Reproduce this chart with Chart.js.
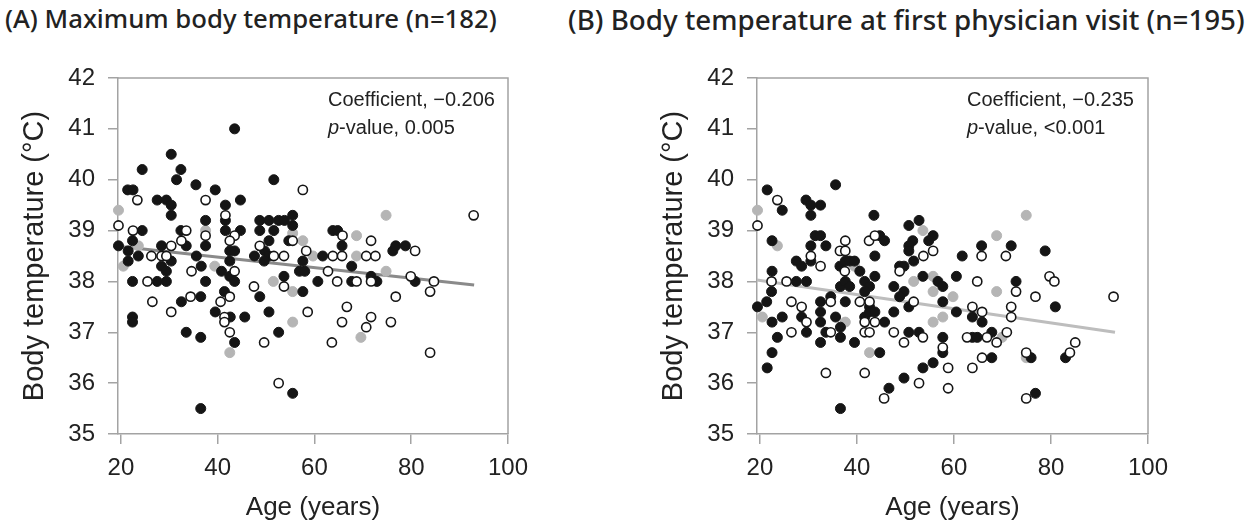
<!DOCTYPE html>
<html>
<head>
<meta charset="utf-8">
<script src="https://cdn.jsdelivr.net/npm/chart.js@4/dist/chart.umd.min.js"></script>
<style>
  body { margin: 0; background: #fff; width: 1253px; height: 526px; position: relative; overflow: hidden; }
  .ttl { position: absolute; top: 0; font-family: "Noto Sans", sans-serif; font-weight: 500; font-size: 21px; color: #222; white-space: nowrap; }
  canvas { position: absolute; top: 0; }
</style>
</head>
<body>
<div class="ttl" id="tA" style="left:5px">(A) Maximum body temperature (n=182)</div>
<div class="ttl" id="tB" style="left:568px">(B) Body temperature at first physician visit (n=195)</div>
<canvas id="cA" width="630" height="526" style="left:0"></canvas>
<canvas id="cB" width="623" height="526" style="left:630px"></canvas>
<script>
// ticks
const xTicks = [20, 40, 60, 80, 100];
const yTicks = [35, 36, 37, 38, 39, 40, 41, 42];

// (A) max body temperature - filled dots
const aFillAge = [43.5,30.4,24.4,32.4,31.5,51.6,35.5,39.5,21.4,22.5,27.5,29.4,30.4,44.7,41.6,30.4,24.4,37.5,41.6,48.7,50.6,52.6,53.8,55.5,55.5,32.4,41.6,44.7,48.7,51.6,22.4,19.5,28.4,33.5,37.5,21.5,23.6,30.4,21.5,35.6,42.5,43.5,42.5,47.6,50.6,49.7,50.6,49.6,54.7,57.6,36.6,40.8,28.4,29.4,53.7,56.9,58.0,
  22.4,27.5,29.4,37.5,42.5,43.5,41.4,36.5,32.5,22.4,22.4,39.5,42.6,45.6,43.5,33.5,36.5,36.5,48.7,50.6,52.6,55.5,57.6,
  63.8,64.8,65.7,76.2,76.8,78.8,61.7,67.7,71.7,80.8,60.7,67.7,72.9];
const aFillTemp = [41.0,40.5,40.2,40.2,40.0,40.0,39.9,39.8,39.8,39.8,39.6,39.6,39.5,39.6,39.5,39.3,39.0,39.2,39.2,39.2,39.2,39.2,39.2,39.3,39.1,39.0,39.0,39.0,39.0,39.0,38.8,38.7,38.7,38.7,38.7,38.6,38.5,38.4,38.4,38.5,38.6,38.6,38.4,38.5,38.8,38.6,38.5,38.4,38.8,38.4,38.3,38.2,38.3,38.2,38.1,38.2,38.2,
  38.0,38.0,38.0,38.0,38.1,38.0,37.8,37.7,37.6,37.3,37.2,37.4,37.3,37.3,36.8,37.0,36.9,35.5,37.7,37.4,37.0,35.8,37.8,
  39.0,39.0,38.7,38.6,38.7,38.7,38.5,38.3,38.1,38.0,38.0,38.0,38.0];
// (A) open circles
const aOpenAge = [57.6,23.4,37.5,41.6,19.5,22.5,33.5,37.5,43.5,42.5,32.5,30.4,26.3,28.4,29.4,48.7,51.6,53.7,55.5,58.3,34.6,43.5,
  25.5,42.5,40.6,34.4,26.5,30.4,41.4,41.4,42.5,47.5,49.6,52.6,53.7,58.6,
  92.9,65.8,71.7,80.8,63.8,65.7,70.7,72.6,62.8,79.9,84.7,
  64.7,68.7,71.7,83.9,76.8,66.7,65.7,71.7,70.7,75.8,63.6,83.9];
const aOpenTemp = [39.8,39.6,39.6,39.3,39.1,39.0,39.0,38.9,38.9,38.8,38.8,38.7,38.5,38.5,38.5,38.7,38.5,38.5,38.8,38.6,38.2,38.2,
  38.0,37.7,37.6,37.7,37.6,37.4,37.3,37.2,37.0,37.9,36.8,36.0,37.9,37.4,
  39.3,38.9,38.8,38.6,38.5,38.5,38.5,38.5,38.2,38.1,38.0,
  38.0,38.0,38.0,37.8,37.7,37.5,37.2,37.3,37.1,37.2,36.8,36.6];
// (A) grey dots
const aGreyAge = [19.5,55.5,37.5,23.6,57.6,39.4,20.5,42.5,51.5,55.5,55.5,74.8,68.7,59.7,68.7,74.8,69.6];
const aGreyTemp = [39.4,38.95,39.0,38.7,38.8,38.3,38.3,36.6,38.0,37.8,37.2,39.3,38.9,38.5,38.5,38.2,36.9];
// (A) regression line
const aFitAge = [19.4, 93];
const aFitTemp = [38.69, 37.93];

// (B) first physician visit - filled dots
const bFillAge = [21.5,24.6,35.6,29.5,30.5,32.5,30.5,43.5,52.8,50.7,55.7,54.8,51.5,50.7,50.7,51.7,48.8,49.7,22.5,31.4,32.5,33.6,30.5,30.5,27.5,28.6,22.5,44.7,45.7,43.7,36.5,37.6,38.5,39.5,40.6,43.7,53.6,60.5,
  65.7,71.8,61.7,78.8,72.8,
  56.7,57.7,27.5,29.6,22.4,21.4,19.5,22.5,24.6,23.6,22.5,21.5,28.6,29.6,32.5,34.6,32.5,32.5,35.6,36.6,37.6,38.5,37.6,36.6,33.6,32.5,36.6,36.6,39.5,41.6,42.6,41.6,42.6,41.6,42.6,43.7,45.7,44.7,47.6,49.7,48.8,47.6,50.7,52.8,50.7,57.7,60.5,57.7,57.7,55.7,53.6,49.7,46.6,
  80.9,63.8,65.8,63.8,64.8,67.8,67.8,75.9,83.0,76.8];
const bFillTemp = [39.8,39.4,39.9,39.6,39.5,39.5,39.3,39.3,39.2,39.1,38.9,38.8,38.8,38.7,38.6,38.4,38.3,38.3,38.8,38.9,38.9,38.7,38.7,38.4,38.4,38.3,38.2,38.9,38.8,38.5,38.3,38.4,38.4,38.4,38.2,38.1,38.1,38.1,
  38.7,38.7,38.5,38.6,38.0,
  38.0,37.9,38.0,38.0,37.8,37.6,37.5,37.2,37.3,36.9,36.6,36.3,37.3,37.0,37.6,37.7,37.4,37.2,37.3,37.9,38.0,37.9,37.6,37.1,37.0,36.8,36.9,35.5,36.8,38.0,37.9,37.8,37.5,37.3,37.4,37.4,37.2,36.6,37.9,37.8,37.7,37.4,37.0,37.0,37.5,37.6,37.4,36.9,36.6,36.4,36.3,36.1,35.9,
  37.5,37.3,37.2,36.9,36.9,37.0,36.5,36.5,36.5,35.8];
// (B) open circles
const bOpenAge = [23.6,19.5,55.7,53.7,48.8,30.5,32.5,37.6,36.5,37.6,42.5,43.7,37.5,
  65.7,70.7,64.8,79.7,80.7,
  22.4,25.5,26.5,28.6,29.6,26.5,34.6,34.6,33.6,40.6,42.6,41.6,43.7,41.6,42.6,41.6,47.6,49.7,51.7,53.6,57.7,58.8,52.8,45.6,58.8,
  72.8,76.8,92.9,63.8,65.8,71.8,71.8,62.7,66.8,68.8,70.9,65.8,63.8,74.9,83.9,85.0,74.9];
const bOpenTemp = [39.6,39.1,38.6,38.5,38.2,38.5,38.3,38.8,38.6,38.6,38.8,38.9,38.2,
  38.5,38.5,38.0,38.1,38.0,
  38.0,38.0,37.6,37.5,37.2,37.0,37.6,37.0,36.2,37.6,37.6,37.2,37.2,37.0,37.0,36.2,37.0,36.8,37.6,36.9,36.7,36.3,36.0,35.7,35.9,
  37.8,37.7,37.7,37.5,37.4,37.5,37.3,36.9,36.9,36.8,37.0,36.5,36.3,36.6,36.6,36.8,35.7];
// (B) grey dots
const bGreyAge = [19.5,53.6,23.6,39.5,55.7,74.9,68.8,20.5,37.6,51.7,55.7,55.7,57.7,59.8,42.6,68.8,69.9,74.9];
const bGreyTemp = [39.4,39.0,38.7,38.3,38.1,39.3,38.9,37.3,37.2,38.0,37.8,37.2,37.3,37.7,36.6,37.8,36.9,36.5];
// (B) regression line
const bFitAge = [19.4, 93.2];
const bFitTemp = [38.03, 37.0];

const axisCol = '#a3a3a3';
const txtCol = '#222';
const sans = '"Liberation Sans", Arial, sans-serif';

function pts(xs, ys) {
  return xs.map((x, i) => ({ x: x, y: ys[i] }));
}

// box around plot + the two stat lines
const boxAndStats = {
  id: 'boxAndStats',
  beforeDatasetsDraw(chart) {
    const a = chart.chartArea, ctx = chart.ctx;
    ctx.save();
    ctx.strokeStyle = axisCol;
    ctx.lineWidth = 1.5;
    ctx.beginPath();
    ctx.moveTo(a.left, a.top); ctx.lineTo(a.right, a.top); ctx.lineTo(a.right, a.bottom);
    ctx.stroke();
    ctx.restore();
  },
  afterDraw(chart) {
    const st = chart.options.plugins.boxAndStats;
    const a = chart.chartArea, ctx = chart.ctx;
    const x = a.left + 210;
    ctx.save();
    ctx.fillStyle = txtCol;
    ctx.textBaseline = 'middle';
    ctx.font = '20px ' + sans;
    ctx.fillText('Coefficient, ' + st.coef, x, 100);
    ctx.font = 'italic 20px ' + sans;
    ctx.fillText('p', x, 128);
    const w = ctx.measureText('p').width;
    ctx.font = '20px ' + sans;
    ctx.fillText('-value, ' + st.pval, x + w, 128);
    ctx.restore();
  }
};

function makeChart(id, fill, open, grey, fit, fitCol, padLeft, yWidth, padRight, coef, pval) {
  new Chart(document.getElementById(id), {
    type: 'scatter',
    data: {
      datasets: [
        { data: fill, backgroundColor: '#151515', borderColor: '#151515', borderWidth: 1, pointRadius: 5, clip: false, order: 2 },
        { data: open, backgroundColor: '#ffffff', borderColor: '#151515', borderWidth: 1.6, pointRadius: 4.6, clip: false, order: 1 },
        { data: grey, backgroundColor: '#b5b5b5', borderColor: '#b5b5b5', borderWidth: 1, pointRadius: 5, clip: false, order: 3 },
        { data: fit, showLine: true, borderColor: fitCol, borderWidth: 3, pointRadius: 0, clip: false, order: 9 }
      ]
    },
    options: {
      responsive: false,
      animation: false,
      devicePixelRatio: 1,
      events: [],
      layout: { padding: { left: padLeft, right: padRight, top: 78, bottom: 0 } },
      plugins: {
        legend: { display: false },
        tooltip: { enabled: false },
        boxAndStats: { coef: coef, pval: pval }
      },
      scales: {
        x: {
          type: 'linear', min: 19.4, max: 100,
          afterBuildTicks: s => { s.ticks = xTicks.map(v => ({ value: v })); },
          afterFit: s => { s.height = 92; },
          border: { color: axisCol, width: 1.5 },
          grid: { drawOnChartArea: false, drawTicks: true, tickLength: 10, color: axisCol, lineWidth: 1.5 },
          ticks: { padding: 10, color: txtCol, font: { family: sans, size: 24 } },
          title: { display: true, text: 'Age (years)', color: txtCol, padding: { top: 0, bottom: 3 }, font: { family: sans, size: 26 } }
        },
        y: {
          type: 'linear', min: 35, max: 42,
          afterBuildTicks: s => { s.ticks = yTicks.map(v => ({ value: v })); },
          afterFit: s => { s.width = yWidth; },
          border: { color: axisCol, width: 1.5 },
          grid: { drawOnChartArea: false, drawTicks: true, tickLength: 10, color: axisCol, lineWidth: 1.5 },
          ticks: { padding: 13, color: txtCol, font: { family: sans, size: 24 } },
          title: { display: true, text: 'Body temperature (°C)', color: txtCol, padding: { top: 0, bottom: 0 }, font: { family: sans, size: 29 } }
        }
      }
    },
    plugins: [boxAndStats]
  });
}

makeChart('cA', pts(aFillAge, aFillTemp), pts(aOpenAge, aOpenTemp), pts(aGreyAge, aGreyTemp), pts(aFitAge, aFitTemp), '#8a8a8a', 18, 100, 122, '\u22120.206', '0.005');
makeChart('cB', pts(bFillAge, bFillTemp), pts(bOpenAge, bOpenTemp), pts(bGreyAge, bGreyTemp), pts(bFitAge, bFitTemp), '#bdbdbd', 27, 100, 105, '\u22120.235', '<0.001');

// size the titles to the widths seen in the figure
function fitTitle(id, target) {
  const el = document.getElementById(id);
  const w = el.getBoundingClientRect().width;
  el.style.fontSize = (21 * target / w) + 'px';
}
fitTitle('tA', 492);
fitTitle('tB', 677);
</script>
</body>
</html>
